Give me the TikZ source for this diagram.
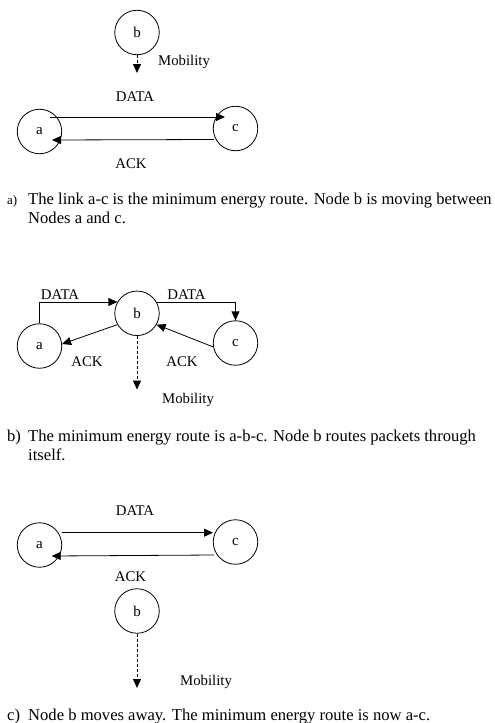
\documentclass[tikz,border=0pt]{standalone}
\usepackage{fontspec}
\setmainfont{Liberation Serif}
\usetikzlibrary{arrows.meta,calc}
\begin{document}
\begin{tikzpicture}[x=1pt,y=-1pt,
 nd/.style={circle,draw,line width=0.8pt,minimum size=44.5pt,inner sep=0pt,font=\fontsize{15}{17}\selectfont},
 lbl/.style={anchor=base,font=\fontsize{14.8}{17}\selectfont,inner sep=0pt},
 captxt/.style={anchor=base west,font=\fontsize{16.6}{19}\selectfont,inner sep=0pt},
 arr/.style={line width=0.8pt,-{Triangle[length=9pt,width=8pt]}},
 mob/.style={arr,dash pattern=on 3pt off 2pt}]
\useasboundingbox (0,0) rectangle (495,723);
% ---- panel a
\node[nd] (a1b) at (137,32.5) {b};
\coordinate (a1m) at (137,73);
\draw[mob] (a1b) -- (a1m);
\node[lbl] (a1mob) at (184,65) {Mobility};
\node[nd] (a1a) at (39.5,131.5) {a};
\node[nd] (a1c) at (235.5,128.5) {c};
\coordinate (a1ds) at ($(a1a)+(10,-14.5)$);
\coordinate (a1de) at ($(a1c)+(-10.5,-11.5)$);
\coordinate (a1as) at ($(a1c)+(-21.5,11)$);
\coordinate (a1ae) at ($(a1a)+(12.5,8.5)$);
\draw[arr] (a1ds) -- (a1de);
\draw[arr] (a1as) -- (a1ae);
\node[lbl] (a1data) at (135,101) {DATA};
\node[lbl] (a1ack) at (131,168) {ACK};
\node[captxt,font=\fontsize{13}{15}\selectfont] (capa0) at (7,204) {a)};
\node[captxt] (capa1) at (28,204) {The link a-c is the minimum energy route. Node b is moving between};
\node[captxt] (capa2) at (28,223) {Nodes a and c.};
% ---- panel b
\node[nd] (bb) at (137,313.3) {b};
\node[nd] (ba) at (39.5,346) {a};
\node[nd] (bc) at (235.5,343) {c};
\draw[arr] (ba.north) |- (bb.150);
\draw[arr] (bb.30) -| (bc.north);
\draw[arr] (bb.210) -- (ba.5);
\draw[arr] (bc.190) -- (bb.330);
\coordinate (bm) at (137,389.5);
\draw[mob] (bb) -- (bm);
\node[lbl] (bdata1) at (60,299) {DATA};
\node[lbl] (bdata2) at (186.5,299) {DATA};
\node[lbl] (back1) at (87,366.7) {ACK};
\node[lbl] (back2) at (182,366.7) {ACK};
\node[lbl] (bmob) at (188,403) {Mobility};
\node[captxt] (capb0) at (7,441.5) {b)};
\node[captxt] (capb1) at (28,441.5) {The minimum energy route is a-b-c. Node b routes packets through};
\node[captxt] (capb2) at (28,460) {itself.};
% ---- panel c
\node[nd] (ca) at (39.5,545) {a};
\node[nd] (cc) at (235.5,542) {c};
\node[nd] (cb) at (137,611) {b};
\coordinate (cds) at ($(ca)+(22.2,-12.3)$);
\coordinate (cde) at ($(cc)+(-22.5,-9.3)$);
\coordinate (cas) at ($(cc)+(-21.5,13)$);
\coordinate (cae) at ($(ca)+(12.2,11)$);
\draw[arr] (cds) -- (cde);
\draw[arr] (cas) -- (cae);
\coordinate (cm) at (137,688);
\draw[mob] (cb) -- (cm);
\node[lbl] (cdata) at (135,515) {DATA};
\node[lbl] (cack) at (130.5,581.7) {ACK};
\node[lbl] (cmob) at (206,685) {Mobility};
\node[captxt] (capc0) at (7,720) {c)};
\node[captxt] (capc1) at (28,720) {Node b moves away. The minimum energy route is now a-c.};
\end{tikzpicture}
\end{document}
